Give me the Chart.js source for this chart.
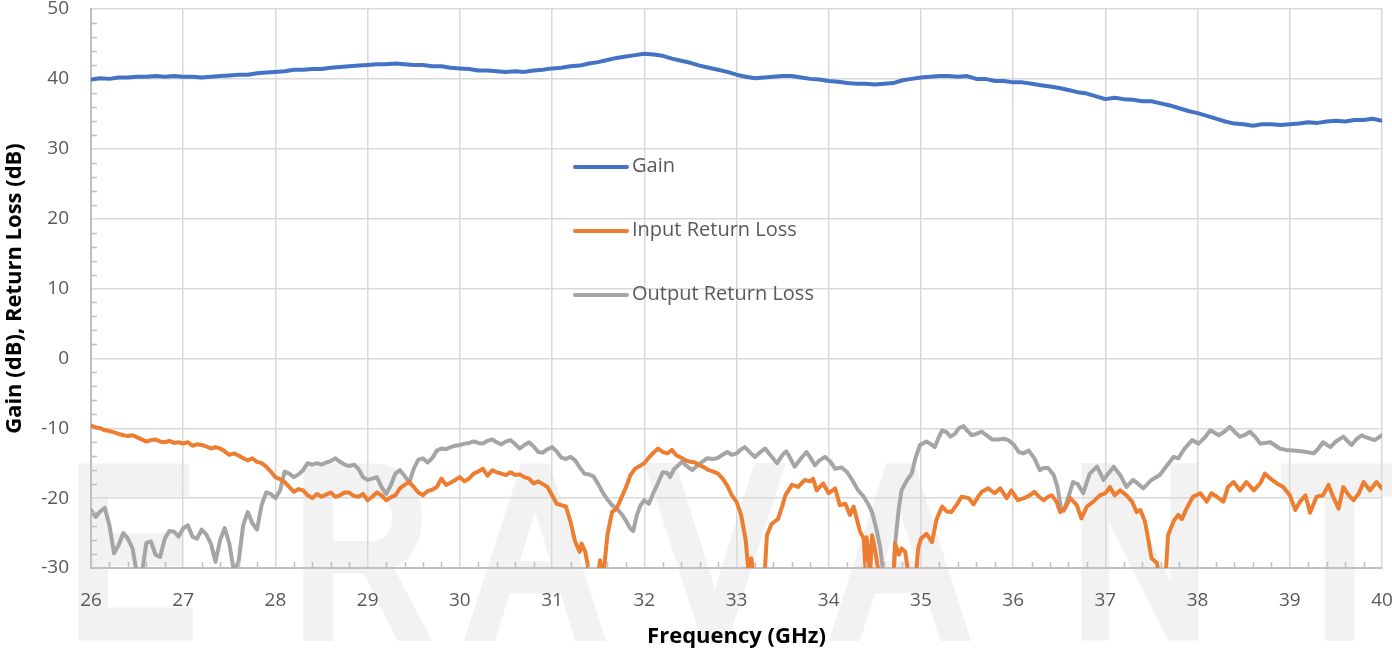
<!DOCTYPE html>
<html>
<head>
<meta charset="utf-8">
<script src="https://cdn.jsdelivr.net/npm/chart.js@4/dist/chart.umd.min.js"></script>
<style>
html,body{margin:0;padding:0;background:#fff;}
#wrap{width:1392px;height:654px;}
</style>
</head>
<body>
<div id="wrap"><canvas id="c" width="1392" height="654"></canvas></div>
<script>
// ---------- DATA ----------
const seriesNames = ['Gain', 'Input Return Loss', 'Output Return Loss'];
const xTicks = [26,27,28,29,30,31,32,33,34,35,36,37,38,39,40];
const yTicks = [-30,-20,-10,0,10,20,30,40,50];

const gainFreq = [26.0,26.1,26.2,26.3,26.4,26.5,26.6,26.7,26.8,26.9,27.0,27.1,27.2,27.3,27.4,27.5,27.6,27.7,27.8,27.9,28.0,28.1,28.2,28.3,28.4,28.5,28.6,28.7,28.8,28.9,29.0,29.1,29.2,29.3,29.4,29.5,29.6,29.7,29.8,29.9,30.0,30.1,30.2,30.3,30.4,30.5,30.6,30.7,30.8,30.9,31.0,31.1,31.2,31.3,31.4,31.5,31.6,31.7,31.8,31.9,32.0,32.1,32.2,32.3,32.4,32.5,32.6,32.7,32.8,32.9,33.0,33.1,33.2,33.3,33.4,33.5,33.6,33.7,33.8,33.9,34.0,34.1,34.2,34.3,34.4,34.5,34.6,34.7,34.8,34.9,35.0,35.1,35.2,35.3,35.4,35.5,35.6,35.7,35.8,35.9,36.0,36.1,36.2,36.3,36.4,36.5,36.6,36.7,36.8,36.9,37.0,37.1,37.2,37.3,37.4,37.5,37.6,37.7,37.8,37.9,38.0,38.1,38.2,38.3,38.4,38.5,38.6,38.7,38.8,38.9,39.0,39.1,39.2,39.3,39.4,39.5,39.6,39.7,39.8,39.9,40.0];
const gainDb = [39.9,40.1,40.0,40.2,40.2,40.3,40.3,40.4,40.3,40.4,40.3,40.3,40.2,40.3,40.4,40.5,40.6,40.6,40.8,40.9,41.0,41.1,41.3,41.3,41.4,41.4,41.6,41.7,41.8,41.9,42.0,42.1,42.1,42.2,42.1,42.0,42.0,41.8,41.8,41.6,41.5,41.4,41.2,41.2,41.1,41.0,41.1,41.0,41.2,41.3,41.5,41.6,41.8,41.9,42.2,42.4,42.7,43.0,43.2,43.4,43.6,43.5,43.3,42.9,42.6,42.3,41.9,41.6,41.3,41.0,40.6,40.3,40.1,40.2,40.3,40.4,40.4,40.2,40.0,39.9,39.7,39.6,39.4,39.3,39.3,39.2,39.3,39.4,39.8,40.0,40.2,40.3,40.4,40.4,40.3,40.4,40.0,40.0,39.7,39.7,39.5,39.5,39.3,39.1,38.9,38.7,38.4,38.1,37.9,37.5,37.1,37.3,37.1,37.0,36.8,36.8,36.5,36.2,35.8,35.4,35.1,34.7,34.3,33.9,33.6,33.5,33.3,33.5,33.5,33.4,33.5,33.6,33.8,33.7,33.9,34.0,33.9,34.1,34.1,34.3,34.0];

const irlFreq = [26.00,26.05,26.10,26.15,26.20,26.25,26.30,26.35,26.40,26.45,26.50,26.55,26.60,26.65,26.70,26.75,26.80,26.85,26.90,26.95,27.00,27.05,27.10,27.15,27.20,27.25,27.30,27.35,27.40,27.45,27.50,27.55,27.60,27.65,27.70,27.75,27.80,27.85,27.90,27.95,28.00,28.05,28.10,28.15,28.20,28.25,28.30,28.35,28.40,28.45,28.50,28.55,28.60,28.65,28.70,28.75,28.80,28.85,28.90,28.95,29.00,29.05,29.10,29.15,29.20,29.25,29.30,29.35,29.40,29.45,29.50,29.55,29.60,29.65,29.70,29.75,29.80,29.85,29.90,29.95,30.00,30.05,30.10,30.15,30.20,30.25,30.30,30.35,30.40,30.45,30.50,30.55,30.60,30.65,30.70,30.75,30.80,30.85,30.90,30.95,31.00,31.05,31.10,31.15,31.20,31.25,31.30,31.32,31.36,31.40,31.45,31.50,31.52,31.55,31.60,31.65,31.70,31.75,31.80,31.85,31.90,31.95,32.00,32.05,32.10,32.15,32.20,32.25,32.30,32.35,32.40,32.45,32.50,32.55,32.60,32.65,32.70,32.75,32.80,32.85,32.90,32.95,33.00,33.05,33.10,33.13,33.16,33.20,33.30,33.33,33.38,33.45,33.50,33.53,33.60,33.67,33.74,33.80,33.83,33.87,33.94,34.00,34.07,34.12,34.18,34.23,34.27,34.34,34.38,34.40,34.41,34.45,34.47,34.50,34.54,34.60,34.70,34.72,34.76,34.79,34.83,34.86,34.94,34.97,35.00,35.06,35.12,35.17,35.23,35.28,35.33,35.39,35.44,35.52,35.57,35.62,35.66,35.73,35.80,35.86,35.93,35.98,36.05,36.12,36.18,36.23,36.28,36.33,36.38,36.42,36.47,36.51,36.56,36.62,36.69,36.74,36.80,36.87,36.94,37.00,37.05,37.10,37.16,37.23,37.29,37.34,37.38,37.43,37.47,37.50,37.56,37.59,37.65,37.68,37.74,37.79,37.83,37.88,37.95,38.03,38.10,38.15,38.21,38.28,38.33,38.39,38.46,38.53,38.61,38.68,38.73,38.79,38.86,38.93,39.00,39.06,39.11,39.17,39.22,39.29,39.36,39.42,39.47,39.53,39.58,39.64,39.69,39.75,39.80,39.87,39.94,40.00];
const irlDb = [-9.6,-9.9,-10.0,-10.3,-10.4,-10.6,-10.8,-11.0,-11.1,-11.0,-11.3,-11.6,-11.9,-11.7,-11.6,-11.9,-12.0,-11.8,-12.1,-12.0,-12.2,-12.0,-12.5,-12.3,-12.4,-12.6,-12.9,-12.7,-12.9,-13.3,-13.8,-13.6,-13.9,-14.3,-14.6,-14.3,-14.8,-15.0,-15.5,-16.2,-17.0,-17.3,-17.7,-18.4,-19.1,-18.7,-18.9,-19.6,-20.0,-19.4,-19.8,-19.5,-19.2,-19.8,-19.6,-19.2,-19.2,-19.7,-19.8,-19.4,-20.3,-19.8,-19.2,-19.6,-20.3,-19.9,-19.6,-18.6,-18.1,-17.7,-18.4,-19.2,-19.6,-19.0,-18.8,-18.4,-17.2,-18.1,-17.8,-17.4,-17.0,-17.6,-17.2,-16.5,-16.2,-15.8,-16.8,-16.0,-16.3,-16.5,-16.7,-16.3,-16.7,-16.6,-17.0,-17.2,-17.9,-17.6,-18.0,-18.4,-19.6,-20.8,-21.0,-21.2,-23.4,-26.2,-27.7,-26.5,-27.7,-30.5,-32.0,-31.0,-28.9,-32.0,-25.3,-22.0,-21.5,-20.0,-18.5,-16.7,-15.8,-15.4,-15.0,-14.2,-13.5,-12.9,-13.4,-13.6,-13.1,-13.9,-14.2,-14.6,-14.8,-14.9,-15.3,-15.6,-16.0,-16.2,-16.5,-17.2,-18.2,-19.6,-20.5,-22.4,-26.0,-30.5,-28.6,-32.0,-32.0,-25.3,-23.7,-23.0,-21.0,-19.6,-18.1,-18.4,-17.4,-17.6,-17.2,-18.9,-17.9,-19.3,-18.6,-21.0,-20.8,-22.4,-21.2,-24.8,-25.8,-30.5,-25.6,-30.5,-25.3,-27.2,-30.5,-32.0,-32.0,-26.5,-28.1,-27.2,-27.7,-30.5,-32.0,-27.2,-25.8,-25.1,-26.3,-23.0,-21.2,-21.9,-22.0,-20.9,-19.8,-20.0,-20.9,-19.8,-19.1,-18.6,-19.3,-18.6,-20.0,-18.9,-20.3,-20.0,-19.6,-19.1,-19.8,-20.3,-19.8,-19.6,-20.5,-22.0,-21.5,-20.0,-21.0,-22.9,-21.2,-20.5,-19.6,-19.3,-18.4,-19.6,-18.9,-19.6,-20.5,-22.0,-21.7,-23.4,-26.2,-28.6,-29.3,-32.0,-32.0,-25.3,-23.3,-22.4,-23.0,-21.5,-19.8,-19.3,-20.5,-19.3,-19.8,-20.5,-18.4,-17.7,-18.9,-17.7,-18.9,-17.9,-16.5,-17.2,-17.9,-18.4,-19.6,-21.7,-20.5,-19.6,-22.1,-19.8,-19.6,-18.1,-19.8,-21.5,-18.4,-19.6,-20.3,-19.3,-17.7,-18.9,-17.7,-18.6];

const orlFreq = [26.00,26.05,26.10,26.15,26.20,26.25,26.30,26.35,26.40,26.45,26.50,26.55,26.60,26.65,26.70,26.75,26.80,26.85,26.90,26.95,27.00,27.05,27.10,27.15,27.20,27.25,27.30,27.35,27.40,27.45,27.50,27.55,27.60,27.65,27.70,27.75,27.80,27.85,27.90,27.95,28.00,28.05,28.10,28.15,28.20,28.25,28.30,28.35,28.40,28.45,28.50,28.55,28.60,28.65,28.70,28.75,28.80,28.85,28.90,28.95,29.00,29.05,29.10,29.15,29.20,29.25,29.30,29.35,29.40,29.45,29.50,29.55,29.60,29.65,29.70,29.75,29.80,29.85,29.90,29.95,30.00,30.05,30.10,30.15,30.20,30.25,30.30,30.35,30.40,30.45,30.50,30.55,30.60,30.65,30.70,30.75,30.80,30.85,30.90,30.95,31.00,31.05,31.10,31.15,31.20,31.25,31.30,31.35,31.40,31.45,31.50,31.55,31.60,31.65,31.70,31.75,31.80,31.85,31.88,31.92,31.96,32.00,32.05,32.10,32.15,32.20,32.25,32.28,32.32,32.36,32.41,32.46,32.52,32.57,32.61,32.68,32.74,32.79,32.85,32.90,32.95,33.00,33.05,33.09,33.15,33.20,33.25,33.31,33.37,33.44,33.50,33.54,33.58,33.63,33.70,33.76,33.80,33.85,33.90,33.96,34.02,34.07,34.14,34.20,34.25,34.32,34.38,34.43,34.47,34.52,34.56,34.59,34.65,34.70,34.72,34.76,34.79,34.85,34.90,34.94,34.99,35.06,35.10,35.15,35.19,35.23,35.28,35.32,35.37,35.41,35.46,35.50,35.55,35.60,35.66,35.72,35.77,35.84,35.90,35.95,36.01,36.06,36.11,36.17,36.23,36.29,36.33,36.38,36.44,36.48,36.52,36.55,36.60,36.65,36.70,36.76,36.83,36.91,36.98,37.03,37.09,37.16,37.23,37.30,37.36,37.41,37.50,37.59,37.67,37.74,37.79,37.86,37.94,38.01,38.08,38.14,38.23,38.30,38.35,38.40,38.46,38.52,38.57,38.63,38.68,38.79,38.89,38.96,39.04,39.12,39.18,39.26,39.31,39.36,39.44,39.50,39.58,39.64,39.67,39.72,39.78,39.83,39.92,40.00];
const orlDb = [-21.7,-22.7,-21.9,-21.4,-23.9,-27.9,-26.7,-25.0,-25.8,-27.2,-31.0,-31.0,-26.4,-26.2,-28.1,-28.4,-25.8,-24.7,-24.8,-25.5,-24.3,-23.9,-25.5,-25.8,-24.5,-25.2,-26.5,-29.1,-26.0,-24.3,-26.5,-30.5,-29.1,-23.9,-22.0,-23.6,-24.5,-21.0,-19.2,-19.4,-20.0,-18.9,-16.2,-16.5,-17.0,-16.6,-16.0,-15.0,-15.2,-15.0,-15.2,-14.9,-14.7,-14.3,-14.8,-15.2,-15.4,-15.2,-15.8,-17.0,-17.4,-17.2,-17.0,-18.4,-19.4,-18.2,-16.5,-16.0,-16.8,-17.8,-15.8,-14.5,-14.3,-14.9,-14.3,-13.2,-12.9,-13.0,-12.7,-12.5,-12.4,-12.2,-12.1,-11.9,-12.1,-12.2,-11.8,-11.6,-12.0,-12.3,-11.9,-11.7,-12.3,-12.9,-12.4,-12.0,-12.6,-13.4,-13.5,-13.0,-12.7,-13.3,-14.2,-14.4,-14.1,-14.6,-15.6,-16.5,-16.6,-16.9,-18.0,-19.2,-20.2,-21.0,-21.5,-22.2,-23.2,-24.4,-24.7,-22.4,-21.0,-20.3,-20.8,-19.2,-17.8,-16.3,-16.4,-17.0,-15.9,-15.4,-14.8,-15.4,-16.0,-15.4,-15.0,-14.3,-14.4,-14.3,-13.8,-13.4,-13.8,-13.6,-13.0,-12.7,-13.5,-14.1,-13.5,-12.9,-13.9,-15.0,-13.8,-13.3,-14.2,-15.5,-14.3,-13.4,-14.2,-15.3,-14.6,-14.1,-14.8,-15.8,-15.6,-16.3,-17.3,-18.9,-19.8,-20.9,-22.0,-24.6,-27.2,-30.5,-32.0,-32.0,-26.5,-21.5,-18.9,-17.4,-16.5,-14.3,-12.4,-11.9,-12.2,-12.7,-11.4,-10.3,-10.6,-11.2,-10.8,-10.0,-9.7,-10.3,-11.0,-10.8,-10.5,-11.1,-11.6,-11.6,-11.5,-11.7,-12.4,-13.4,-13.6,-13.2,-14.3,-16.0,-15.7,-15.7,-16.7,-18.4,-21.5,-21.8,-19.8,-17.7,-18.0,-19.3,-16.5,-15.5,-17.4,-16.5,-15.5,-16.7,-18.4,-17.4,-18.0,-18.6,-17.4,-16.7,-15.3,-14.1,-14.3,-12.9,-11.7,-12.2,-11.3,-10.3,-11.0,-10.4,-9.8,-10.5,-11.2,-10.9,-10.5,-11.3,-12.2,-12.0,-12.9,-13.1,-13.2,-13.3,-13.4,-13.6,-12.9,-12.0,-12.7,-11.9,-11.2,-12.0,-12.4,-11.6,-11.0,-11.3,-11.7,-11.0];

const seriesColors = ['#4472C4', '#ED7D31', '#A5A5A5'];

// ---------- CHART ----------
const toPts = (xs, ys) => xs.map((x, i) => ({x: x, y: ys[i]}));
const FONT = "'Open Sans', 'Liberation Sans', sans-serif";
const TICK_COLOR = '#595959';
const AXIS_COLOR = '#bfbfbf';
const GRID_COLOR = '#d9d9d9';

const watermarkPlugin = {
  id: 'watermark',
  beforeDraw(chart) {
    const ctx = chart.ctx;
    ctx.save();
    ctx.fillStyle = '#ffffff';
    ctx.fillRect(0, 0, chart.width, chart.height);
    ctx.fillStyle = '#f2f2f2';
    ctx.strokeStyle = '#f2f2f2';
    ctx.lineWidth = 15;
    ctx.lineJoin = 'miter';
    ctx.font = "normal 235px 'Liberation Sans', sans-serif";
    ctx.textAlign = 'center';
    ctx.textBaseline = 'alphabetic';
    const letters = 'ERAVANT'.split('');
    const centers = [132, 362, 535, 715, 900, 1140, 1340];
    letters.forEach((l, i) => {
      ctx.save();
      ctx.translate(centers[i], 633);
      ctx.scale(0.8, 1);
      ctx.fillText(l, 0, 0);
      ctx.strokeText(l, 0, 0);
      ctx.restore();
    });
    ctx.restore();
  }
};

const minorTicksPlugin = {
  id: 'minorTicks',
  afterDraw(chart) {
    const ctx = chart.ctx;
    const xs = chart.scales.x, ys = chart.scales.y;
    const a = chart.chartArea;
    ctx.save();
    ctx.strokeStyle = AXIS_COLOR;
    ctx.lineWidth = 1.5;
    ctx.beginPath();
    for (let k = 0; k <= 70; k++) {
      if (k % 5 === 0) continue;
      const px = Math.round(xs.getPixelForValue(26 + k * 0.2)) + 0.5;
      ctx.moveTo(px, a.bottom);
      ctx.lineTo(px, a.bottom - 6);
    }
    for (let v = -30; v <= 50; v += 2) {
      if (v % 10 === 0) continue;
      const py = Math.round(ys.getPixelForValue(v)) + 0.5;
      ctx.moveTo(a.left, py);
      ctx.lineTo(a.left + 6, py);
    }
    ctx.stroke();
    ctx.restore();
  }
};

const legendPlugin = {
  id: 'customLegend',
  afterDraw(chart) {
    const ctx = chart.ctx;
    const ys = [167, 231, 295];
    ctx.save();
    ctx.font = "20px " + FONT;
    ctx.textAlign = 'left';
    ctx.textBaseline = 'middle';
    chart.data.datasets.forEach((ds, i) => {
      ctx.strokeStyle = ds.borderColor;
      ctx.lineWidth = 4;
      ctx.lineCap = 'round';
      ctx.beginPath();
      ctx.moveTo(575, ys[i]);
      ctx.lineTo(627, ys[i]);
      ctx.stroke();
      ctx.fillStyle = TICK_COLOR;
      ctx.fillText(ds.label, 632, ys[i] - 1);
    });
    ctx.restore();
  }
};

const mk = (label, color, xs, yv) => ({
  label: label,
  data: toPts(xs, yv),
  borderColor: color,
  backgroundColor: color,
  borderWidth: 4,
  pointRadius: 0,
  tension: 0,
  fill: false,
  clip: 0,
  borderJoinStyle: 'round',
  borderCapStyle: 'round'
});

const zeroPad = s => { s.paddingTop = 0; s.paddingBottom = 0; s.paddingLeft = 0; s.paddingRight = 0; };

new Chart(document.getElementById('c'), {
  type: 'line',
  data: {
    datasets: [
      mk(seriesNames[0], seriesColors[0], gainFreq, gainDb),
      mk(seriesNames[1], seriesColors[1], irlFreq, irlDb),
      mk(seriesNames[2], seriesColors[2], orlFreq, orlDb)
    ]
  },
  options: {
    responsive: false,
    animation: false,
    devicePixelRatio: 1,
    layout: {padding: {left: 0, right: 10, top: 9, bottom: 0}},
    plugins: {legend: {display: false}, tooltip: {enabled: false}},
    scales: {
      x: {
        type: 'linear',
        min: 26, max: 40,
        afterBuildTicks: s => { s.ticks = xTicks.map(v => ({value: v})); },
        afterFit: s => { s.height = 86; zeroPad(s); },
        ticks: {color: TICK_COLOR, font: {family: FONT, size: 19}, padding: 21, maxRotation: 0, autoSkip: false},
        grid: {color: GRID_COLOR, lineWidth: 1.5, drawTicks: false},
        border: {color: AXIS_COLOR, width: 2},
        title: {display: true, text: 'Frequency (GHz)', color: '#000', font: {family: FONT, size: 22, weight: 'bold'}, padding: {top: 4, bottom: 4}}
      },
      y: {
        min: -30, max: 50,
        afterBuildTicks: s => { s.ticks = yTicks.map(v => ({value: v})); },
        afterFit: s => { s.width = 91; zeroPad(s); },
        ticks: {color: TICK_COLOR, font: {family: FONT, size: 19}, padding: 22},
        grid: {color: GRID_COLOR, lineWidth: 1.5, drawTicks: false},
        border: {color: AXIS_COLOR, width: 2},
        title: {display: true, text: 'Gain (dB), Return Loss (dB)', color: '#000', font: {family: FONT, size: 22, weight: 'bold'}, padding: {top: 2, bottom: 0}}
      }
    }
  },
  plugins: [watermarkPlugin, minorTicksPlugin, legendPlugin]
});
</script>
</body>
</html>
